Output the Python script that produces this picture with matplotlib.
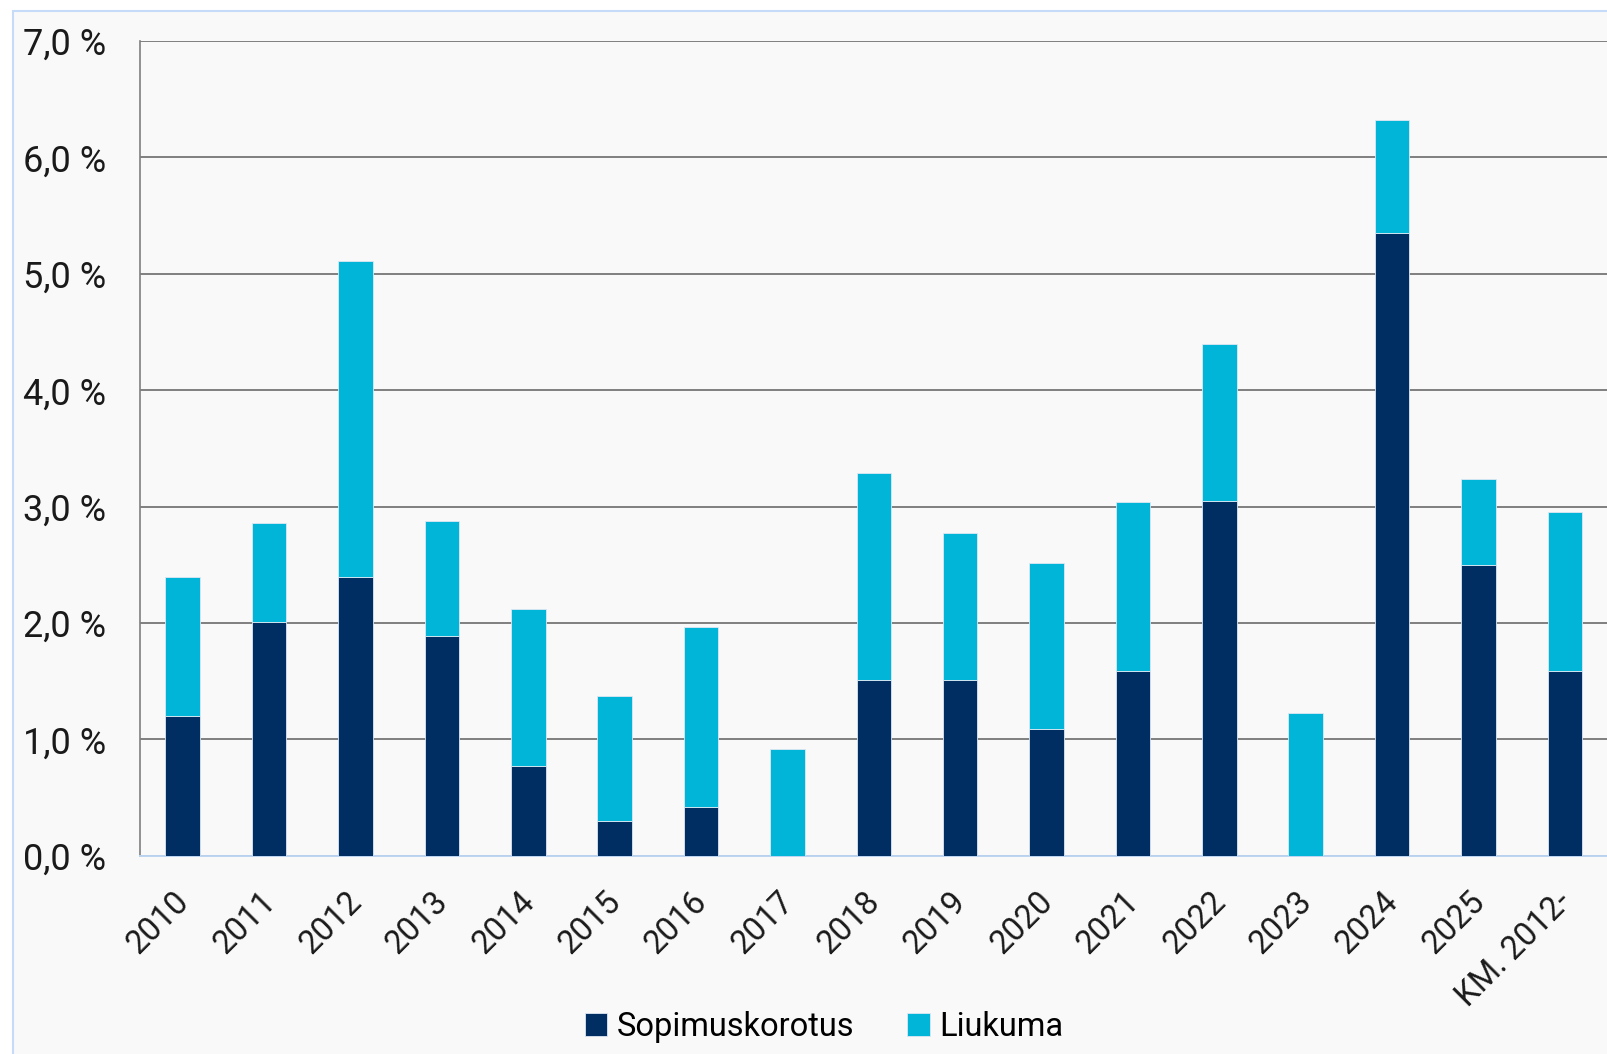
import matplotlib.pyplot as plt
from matplotlib.patches import Rectangle
from matplotlib.ticker import FuncFormatter, MultipleLocator
from matplotlib.transforms import ScaledTranslation

plt.rcParams['font.family'] = ['Roboto', 'DejaVu Sans']

years = ['2010', '2011', '2012', '2013', '2014', '2015', '2016', '2017', '2018',
         '2019', '2020', '2021', '2022', '2023', '2024', '2025', 'KM. 2012-']
# Sopimuskorotus (contract raise), %
sopimus = [1.20, 2.01, 2.40, 1.89, 0.77, 0.30, 0.42, 0.0, 1.51,
           1.51, 1.09, 1.59, 3.05, 0.0, 5.35, 2.50, 1.59]
# total raise, %
total = [2.40, 2.86, 5.11, 2.88, 2.12, 1.37, 1.97, 0.92, 3.29,
         2.77, 2.52, 3.04, 4.40, 1.23, 6.32, 3.24, 2.95]
liukuma = [round(t - s, 2) for t, s in zip(total, sopimus)]

navy = '#002d62'
cyan = '#00b5d7'
bg = '#f9f9f9'

fig = plt.figure(figsize=(16.08, 10.54), dpi=100)
fig.patch.set_facecolor('white')
fig.patches.append(Rectangle((13 / 1608, -0.01), 1.0, 1 - 11 / 1054 + 0.01,
                             transform=fig.transFigure, facecolor=bg,
                             edgecolor='#c6dbf7', linewidth=1.5, zorder=-10))

ax = fig.add_axes([0.0868, 0.188, 1 - 0.0868, 0.773])
ax.set_facecolor(bg)

x = list(range(len(years)))
ax.bar(x, sopimus, width=0.4, color=navy, edgecolor='#dfe8f3', linewidth=0.6,
       label='Sopimuskorotus', zorder=3)
ax.bar(x, liukuma, width=0.4, bottom=sopimus, color=cyan, edgecolor='#dfe8f3',
       linewidth=0.6, label='Liukuma', zorder=3)

ax.set_xlim(-0.5, len(years) - 0.5)
ax.set_ylim(0, 7)
ax.yaxis.set_major_locator(MultipleLocator(1))
ax.yaxis.set_major_formatter(FuncFormatter(lambda v, p: f'{v:.1f} %'.replace('.', ',')))
ax.grid(axis='y', color='#7f7f7f', linewidth=1.4, zorder=0)

for s in ['top', 'right']:
    ax.spines[s].set_visible(False)
ax.spines['left'].set_color('#7f7f7f')
ax.spines['left'].set_linewidth(1.2)
ax.spines['bottom'].set_color('#bcd4f0')
ax.spines['bottom'].set_linewidth(1.4)

ax.tick_params(axis='y', length=0, pad=24, labelsize=26, labelcolor='#1a1a1a')
ax.tick_params(axis='x', length=0, pad=12, labelsize=23.5, labelcolor='#1a1a1a')
ax.set_xticks(x)
ax.set_xticklabels(years, rotation=45, ha='right', va='top', rotation_mode='anchor')
shift = ScaledTranslation(-0.10, -0.13, fig.dpi_scale_trans)
for lab in ax.get_xticklabels():
    lab.set_transform(lab.get_transform() + shift)

leg = fig.legend(loc='center', bbox_to_anchor=(0.5125, 0.026), ncol=2, frameon=False,
                 fontsize=23.5, handlelength=0.7, handleheight=0.7, handletextpad=0.3,
                 columnspacing=1.6)
for h in leg.legend_handles:
    h.set_edgecolor('#dfe8f3')

fig.savefig('out.png', dpi=100, facecolor='white')
